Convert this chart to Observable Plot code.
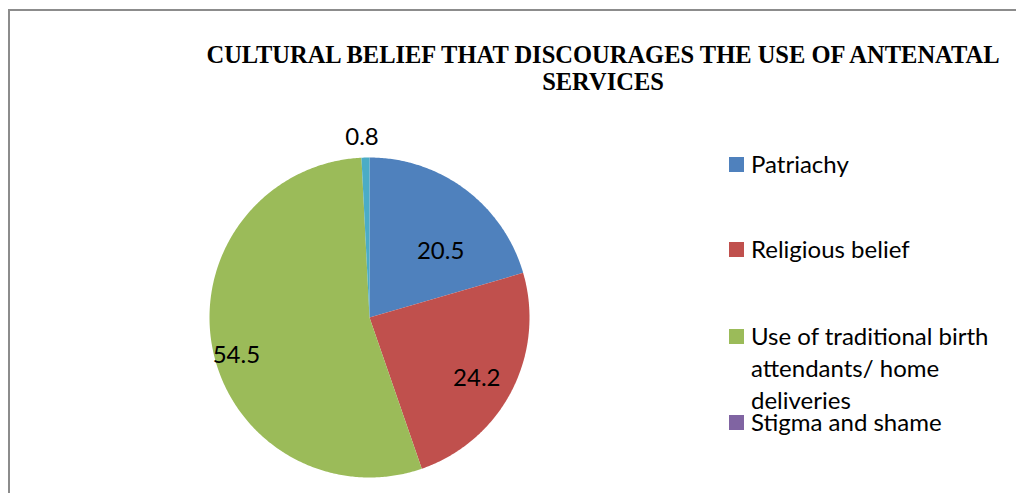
<!DOCTYPE html>
<html>
<head>
<meta charset="utf-8">
<script src="https://cdn.jsdelivr.net/npm/d3@7"></script>
<script src="https://cdn.jsdelivr.net/npm/@observablehq/plot@0.6"></script>
<style>
  html, body { margin: 0; padding: 0; background: #fff; }
  #wrap { position: relative; width: 1016px; height: 493px; overflow: hidden; }
  #frame { position: absolute; left: 8px; top: 9px; width: 1100px; height: 600px;
           border-top: 2px solid #8c8c8c; border-left: 2px solid #8c8c8c; box-sizing: border-box; }
  #title { position: absolute; left: 203px; width: 800px; top: 41px; text-align: center;
           font-family: "Liberation Serif", "Times New Roman", serif; font-weight: bold;
           font-size: 24.5px; line-height: 27px; color: #000; }
  #legend { position: absolute; left: 729px; top: 0; font-family: Lato, "Open Sans", sans-serif;
            font-size: 24px; color: #000; }
  .item { position: absolute; left: 0; white-space: nowrap; }
  .sw { position: absolute; left: 0; width: 15px; height: 15px; }
  .txt { position: absolute; left: 22px; line-height: 32px; }
  #chart { position: absolute; left: 0; top: 0; }
</style>
</head>
<body>
<div id="wrap">
  <div id="chart"></div>
  <div id="frame"></div>
  <div id="title">CULTURAL BELIEF THAT DISCOURAGES THE USE OF ANTENATAL<br>SERVICES</div>
  <div id="legend"></div>
</div>
<script>
// ---- data ----
const categories = ["Patriachy", "Religious belief", "Use of traditional birth attendants/ home deliveries", "Stigma and shame", "Other"];
const values = [20.5, 24.2, 54.5, 0, 0.8];
const valueLabels = ["20.5", "24.2", "54.5", "", "0.8"];
const legendLines = [["Patriachy"], ["Religious belief"], ["Use of traditional birth", "attendants/ home", "deliveries"], ["Stigma and shame"]];
const colors = ["#4F81BD", "#C0504D", "#9BBB59", "#8064A2", "#4BACC6"];

// ---- layout ----
const W = 1016, H = 493;
const cx = 369, cy = 317, R = 160;
// label placement (radius as fraction of R, and pixel nudges), per slice
const labelRadius = [0.72, 0.72, 0.72, 0, 1.13];
const labelNudge = [[2, 26], [5, 8], [-20, 16], [0, 0], [-3, 1]];

const arcs = d3.pie().sort(null).value(d => d.value)(categories.map((name, i) => ({name, value: values[i], label: valueLabels[i], i})));

// polygon points for each slice (unit circle, clockwise from 12 o'clock)
const pts = [];
for (const a of arcs) {
  if (a.endAngle - a.startAngle <= 0) continue;
  const n = Math.max(2, Math.ceil((a.endAngle - a.startAngle) / 0.01));
  pts.push({name: a.data.name, x: 0, y: 0});
  for (let k = 0; k <= n; k++) {
    const t = a.startAngle + (a.endAngle - a.startAngle) * k / n;
    pts.push({name: a.data.name, x: Math.sin(t), y: Math.cos(t)});
  }
  pts.push({name: a.data.name, x: 0, y: 0});
}

const labels = arcs.filter(a => a.data.label).map(a => {
  const m = (a.startAngle + a.endAngle) / 2;
  const r = labelRadius[a.data.i];
  return {label: a.data.label, x: r * Math.sin(m), y: r * Math.cos(m),
          dx: labelNudge[a.data.i][0], dy: labelNudge[a.data.i][1]};
});

const chart = Plot.plot({
  width: W, height: H,
  margin: 0,
  x: {domain: [-cx / R, (W - cx) / R], axis: null},
  y: {domain: [-(H - cy) / R, cy / R], axis: null},
  color: {domain: categories, range: colors},
  marks: [
    Plot.line(pts, {x: "x", y: "y", z: "name", fill: "name", stroke: "none", curve: "linear"}),
    ...labels.map(l => Plot.text([l], {x: "x", y: "y", text: "label", dx: l.dx, dy: l.dy,
      fontSize: 24, fill: "#000", fontFamily: "Lato, 'Open Sans', sans-serif"}))
  ],
  style: {background: "transparent", overflow: "visible"}
});
document.getElementById("chart").appendChild(chart);

// ---- legend (HTML) ----
const legendTops = [165, 250, 337, 423];
const leg = document.getElementById("legend");
legendLines.forEach((lines, i) => {
  const item = document.createElement("div");
  item.className = "item";
  item.style.top = (legendTops[i] - 8) + "px";
  const sw = document.createElement("div");
  sw.className = "sw";
  sw.style.background = colors[i];
  item.appendChild(sw);
  const txt = document.createElement("div");
  txt.className = "txt";
  txt.style.top = "-9px";
  txt.innerHTML = lines.join("<br>");
  item.appendChild(txt);
  leg.appendChild(item);
});
</script>
</body>
</html>
